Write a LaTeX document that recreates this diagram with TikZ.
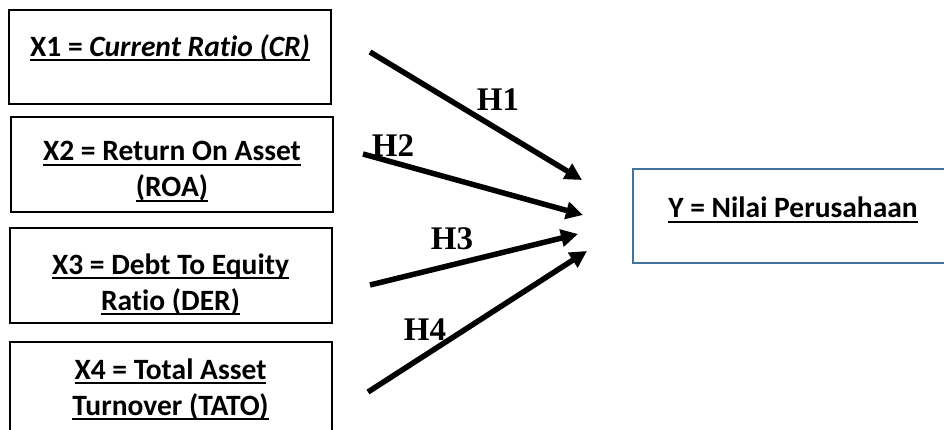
\documentclass[tikz,border=0pt]{standalone}
\usepackage{fontspec}
\setmainfont[Ligatures=NoCommon]{Carlito}
\newfontfamily\hfont{Liberation Serif}
\usetikzlibrary{positioning,arrows.meta}
\definecolor{ybox}{RGB}{65,113,156}
\newcommand{\ultext}[1]{\setbox0\hbox{#1}\rlap{\rule[-5pt]{\wd0}{2pt}}\box0}

\begin{document}
\begin{tikzpicture}[x=1pt, y=-1pt,
                  varbox/.style={draw, line width=2pt, minimum width=322pt, minimum height=95pt,
                                 inner sep=0pt, align=center,
                                 font=\fontsize{29.5}{36}\selectfont\bfseries},
                  hyp/.style={line width=5.5pt, -{Triangle[length=17pt,width=17pt]}},
                  hlabel/.style={font=\hfont\fontsize{33}{36}\selectfont\bfseries, inner sep=0pt}]
    \useasboundingbox (0,0) rectangle (944,430);
    \node[varbox, text depth=23pt, minimum height=94pt] (X1) at (170,57) {\ultext{X1 = \itshape Current Ratio (CR)}};
    \node[varbox] (X2) at (172,165) {\rule{0pt}{33pt}\ultext{X2 = Return On Asset}\\ \ultext{(ROA)}};
    \node[varbox] (X3) at (170.5,275.5) {\rule{0pt}{38pt}\ultext{X3 = Debt To Equity}\\ \ultext{Ratio (DER)}};
    \node[varbox] (X4) at (170.5,389.5) {\ultext{X4 = Total Asset}\\ \ultext{Turnover (TATO)}};
    \node[varbox, draw=ybox, text depth=17pt, minimum width=320pt, minimum height=94pt] (Y) at (793,216) {\ultext{Y = Nilai Perusahaan}};
    % arrow ends
    \coordinate (h1s) at (370,52);  \coordinate (h1e) at (582,180);
    \coordinate (h2s) at (363,154); \coordinate (h2e) at (583,215);
    \coordinate (h3s) at (370,285); \coordinate (h3e) at (578,234);
    \coordinate (h4s) at (368,392); \coordinate (h4e) at (587,251);
    \draw[hyp] (h1s) -- (h1e);
    \draw[hyp] (h2s) -- (h2e);
    \draw[hyp] (h3s) -- (h3e);
    \draw[hyp] (h4s) -- (h4e);
    \node[hlabel] (H1) at (498,100) {H1};
    \node[hlabel] (H2) at (393,146) {H2};
    \node[hlabel] (H3) at (452,239) {H3};
    \node[hlabel] (H4) at (425,330) {H4};
  \end{tikzpicture}
\end{document}
